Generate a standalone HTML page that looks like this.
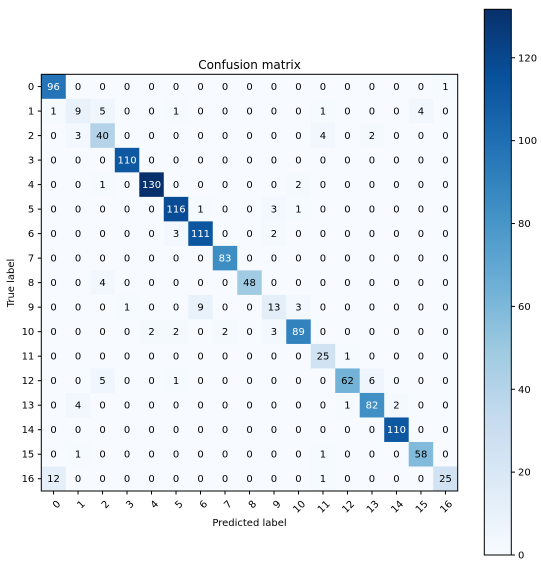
<!DOCTYPE html>
<html><head><meta charset="utf-8"><style>
body{margin:0;background:#fff;}
svg{display:block;font-family:"DejaVu Sans","Liberation Sans",sans-serif;}
</style></head><body>
<svg id="chart" width="543" height="568" xmlns="http://www.w3.org/2000/svg">
<defs><linearGradient id="cbgrad" x1="0" y1="1" x2="0" y2="0">
<stop offset="0" stop-color="#f7fbff"/><stop offset="0.125" stop-color="#deebf7"/><stop offset="0.25" stop-color="#c6dbef"/><stop offset="0.375" stop-color="#9ecae1"/><stop offset="0.5" stop-color="#6baed6"/><stop offset="0.625" stop-color="#4292c6"/><stop offset="0.75" stop-color="#2171b5"/><stop offset="0.875" stop-color="#08519c"/><stop offset="1" stop-color="#08306b"/>
</linearGradient></defs>
<text x="249.5" y="69" font-size="12" text-anchor="middle">Confusion matrix</text>
<g id="cells"></g>
<rect x="41.3" y="74.3" width="416.4" height="416.7" fill="none" stroke="#000" stroke-width="1"/>
<g id="axes"></g>
<text x="249.5" y="526" font-size="10" text-anchor="middle">Predicted label</text>
<text transform="translate(14,283) rotate(-90)" font-size="10" text-anchor="middle">True label</text>
<rect x="484.3" y="9.3" width="27" height="545.7" fill="url(#cbgrad)" stroke="#000" stroke-width="1"/>
<g id="cbticks"></g>
</svg>
<script>
const labels = ["0","1","2","3","4","5","6","7","8","9","10","11","12","13","14","15","16"];
const row0 = [96,0,0,0,0,0,0,0,0,0,0,0,0,0,0,0,1];
const row1 = [1,9,5,0,0,1,0,0,0,0,0,1,0,0,0,4,0];
const row2 = [0,3,40,0,0,0,0,0,0,0,0,4,0,2,0,0,0];
const row3 = [0,0,0,110,0,0,0,0,0,0,0,0,0,0,0,0,0];
const row4 = [0,0,1,0,130,0,0,0,0,0,2,0,0,0,0,0,0];
const row5 = [0,0,0,0,0,116,1,0,0,3,1,0,0,0,0,0,0];
const row6 = [0,0,0,0,0,3,111,0,0,2,0,0,0,0,0,0,0];
const row7 = [0,0,0,0,0,0,0,83,0,0,0,0,0,0,0,0,0];
const row8 = [0,0,4,0,0,0,0,0,48,0,0,0,0,0,0,0,0];
const row9 = [0,0,0,1,0,0,9,0,0,13,3,0,0,0,0,0,0];
const row10 = [0,0,0,0,2,2,0,2,0,3,89,0,0,0,0,0,0];
const row11 = [0,0,0,0,0,0,0,0,0,0,0,25,1,0,0,0,0];
const row12 = [0,0,5,0,0,1,0,0,0,0,0,0,62,6,0,0,0];
const row13 = [0,4,0,0,0,0,0,0,0,0,0,0,1,82,2,0,0];
const row14 = [0,0,0,0,0,0,0,0,0,0,0,0,0,0,110,0,0];
const row15 = [0,1,0,0,0,0,0,0,0,0,0,1,0,0,0,58,0];
const row16 = [12,0,0,0,0,0,0,0,0,0,0,1,0,0,0,0,25];
const matrix = [row0,row1,row2,row3,row4,row5,row6,row7,row8,row9,row10,row11,row12,row13,row14,row15,row16];
const cbTicks = [0,20,40,60,80,100,120];

const NS="http://www.w3.org/2000/svg";
const X0=41.3,Y0=74.3,W=416.4,H=416.7;
const n=labels.length;
const vmax=Math.max(...matrix.flat());
const cw=W/n,ch=H/n;
const xPos=i=>X0+i*cw, yPos=i=>Y0+i*ch;
const stops=["#f7fbff","#deebf7","#c6dbef","#9ecae1","#6baed6","#4292c6","#2171b5","#08519c","#08306b"].map(h=>[parseInt(h.slice(1,3),16),parseInt(h.slice(3,5),16),parseInt(h.slice(5,7),16)]);
function blues(t){t=Math.max(0,Math.min(1,t));const p=t*8,i=Math.min(7,Math.floor(p)),f=p-i;const a=stops[i],b=stops[i+1];return `rgb(${a.map((v,k)=>Math.round(v+(b[k]-v)*f)).join(",")})`;}
function mk(tag,attrs,parent){const e=document.createElementNS(NS,tag);for(const k in attrs)e.setAttribute(k,attrs[k]);parent.appendChild(e);return e;}
const cells=document.getElementById('cells');
matrix.forEach((row,r)=>row.forEach((v,c)=>{
  const rc=mk('rect',{x:xPos(c),y:yPos(r),width:cw+0.3,height:ch+0.3,fill:blues(v/vmax)},cells);
  
  
  const t=mk('text',{x:xPos(c)+cw/2,y:yPos(r)+ch/2+3.5,'font-size':10,'text-anchor':'middle',fill:v>vmax/2?'#fff':'#000'},cells);
  t.textContent=v;
  
  
}));
const axes=document.getElementById('axes');
labels.forEach((l,i)=>{
  const yc=yPos(i)+ch/2;
  mk('line',{x1:X0-3.5,x2:X0,y1:yc,y2:yc,stroke:'#000'},axes);
  const ty=mk('text',{x:X0-7,y:yc+3.5,'font-size':10,'text-anchor':'end'},axes);
  ty.textContent=l;
  
  
  const xc=xPos(i)+cw/2;
  mk('line',{x1:xc,x2:xc,y1:Y0+H,y2:Y0+H+3.5,stroke:'#000'},axes);
  const tx=mk('text',{transform:`translate(${xc+3},${Y0+H+9}) rotate(-45)`,'font-size':10,'text-anchor':'end','dominant-baseline':'hanging'},axes);
  tx.textContent=l;
  
  
});
const cb=document.getElementById('cbticks');
const cbY=v=>555-v*(555-9.3)/131.7;
cbTicks.forEach(v=>{
  const y=cbY(v);
  mk('line',{x1:511.3,x2:515,y1:y,y2:y,stroke:'#000'},cb);
  const t=mk('text',{x:518,y:y+3.5,'font-size':10},cb);
  t.textContent=v;
  
  
});
</script>
</body></html>
